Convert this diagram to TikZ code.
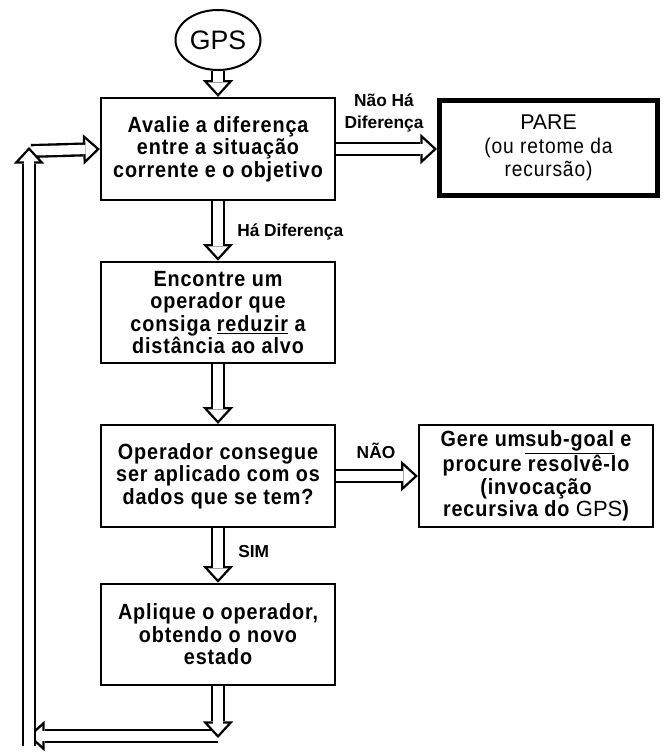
\documentclass[tikz,border=0pt]{standalone}
\usepackage{fontspec}
\setmainfont{Liberation Sans}
\newfontfamily\trackfont{Liberation Sans}[LetterSpace=4,FakeStretch=0.9]
\usepackage{tikz}
\usetikzlibrary{arrows.meta,calc,positioning,shapes.geometric,backgrounds}
\newcommand\boxtext{\fontsize{16.5}{16.8}\selectfont\trackfont\bfseries}
\newcommand\paretext{\fontsize{16}{17.5}\selectfont\trackfont}
\newcommand\lbltext{\fontsize{13}{16}\selectfont\bfseries}
\newcommand\gpsfont{\normalfont\mdseries}

\begin{document}
\begin{tikzpicture}[x=0.75pt,y=-0.75pt,
  box/.style={draw,line width=1.7pt,fill=white,align=center,minimum width=175.5pt,minimum height=76pt,inner sep=2pt,font=\boxtext},
  lbl/.style={font=\lbltext,inner sep=0pt,align=center},
  hollow/.style={white,line width=7pt,-{Triangle[length=8.2pt,width=15pt,line width=0pt]},shorten >=2.6pt,
    preaction={draw=black,line width=10.5pt,-{Triangle[length=12.5pt,width=23pt,line width=0pt]},shorten >=0pt}}]
  \useasboundingbox (0,0) rectangle (663,752);
  \node[ellipse,draw,line width=1.5pt,fill=white,minimum width=63.75pt,minimum height=45pt,inner sep=0pt,font=\fontsize{20}{24}\selectfont] (gps) at (218,40) {GPS};
  \node[box,minimum height=76.5pt] (eval) at (218,149) {Avalie a diferença\\entre a situação\\corrente e o objetivo};
  \node[box,line width=3.75pt,minimum width=163.5pt,minimum height=71pt,font=\paretext] (pare) at (548.5,148) {{\gpsfont PARE}\\(ou retome da\\recursão)};
  \node[box] (find) at (218,312.5) {Encontre um\\operador que\\consiga \underline{reduzir} a\\distância ao alvo};
  \node[box,minimum height=76.5pt] (test) at (218,476) {Operador consegue\\ser aplicado com os\\dados que se tem?};
  \node[box,minimum height=76.5pt] (sub) at (536,476) {Gere um\underline{sub-goal} e\\procure resolvê-lo\\(invocação\\recursiva do {\gpsfont GPS})};
  \node[box] (apply) at (218,634.5) {Aplique o operador,\\obtendo o novo\\estado};

  \node[lbl] (nodiff) at (384,113) {Não Há\\Diferença};
  \node[lbl,anchor=west] (diff) at (237,232) {Há Diferença};
  \node[lbl] (nao) at (376,451) {NÃO};
  \node[lbl,anchor=west] (sim) at (238,552) {SIM};

  \coordinate (dropB) at (218,738);
  \coordinate (turnB) at (218,736);
  \coordinate (cornerBL) at (28,736);
  \coordinate (footL) at (29,746);
  \coordinate (tipL) at (29,147);
  \coordinate (cornerTL) at (31,151);

  \begin{scope}[on background layer]
    \draw[hollow] (gps.south) -- (eval.north);
    \draw[hollow] (eval.east) -- (eval.east -| pare.west);
    \draw[hollow] (eval.south) -- (find.north);
    \draw[hollow] (find.south) -- (test.north);
    \draw[hollow] (test.east) -- (sub.west);
    \draw[hollow] (test.south) -- (apply.north);
    \draw[hollow] (turnB) -- (cornerBL);
    \draw[hollow] (apply.south) -- (dropB);
    \draw[hollow] (cornerTL) -- (eval.west);
    \draw[hollow] (footL) -- (tipL);
  \end{scope}
\end{tikzpicture}
\end{document}
